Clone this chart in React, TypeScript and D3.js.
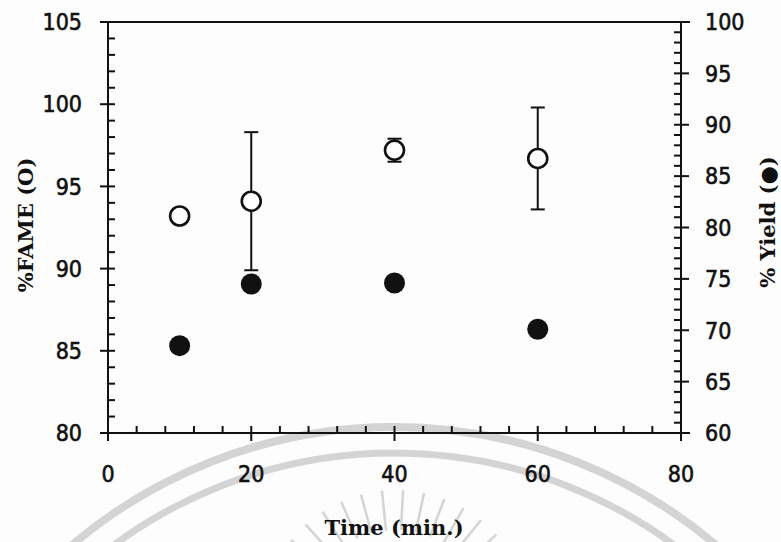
import React, { useEffect, useRef } from 'react';
import * as d3 from 'd3';

// reaction time (min)
const timeMin = [10, 20, 40, 60];
// %FAME, open circles, left axis
const fame = [93.2, 94.1, 97.2, 96.7];
const fameErr = [0, 4.2, 0.7, 3.1];
// %Yield, filled circles, right axis
const yieldPct = [68.5, 74.5, 74.6, 70.1];

const xTicks = [0, 20, 40, 60, 80];
const leftTicks = [80, 85, 90, 95, 100, 105];
const rightTicks = [60, 65, 70, 75, 80, 85, 90, 95, 100];

const App = () => {
  const ref = useRef<SVGSVGElement | null>(null);

  useEffect(() => {
    const width = 781;
    const height = 542;
    const left = 108, right = 681, top = 22, bottom = 433;

    const x = d3.scaleLinear().domain([0, 80]).range([left, right]);
    const yL = d3.scaleLinear().domain([80, 105]).range([bottom, top]);
    const yR = d3.scaleLinear().domain([60, 100]).range([bottom, top]);

    const svg = d3.select(ref.current).attr('width', width).attr('height', height);
    svg.selectAll('*').remove();

    svg.append('rect').attr('width', width).attr('height', height).attr('fill', '#fdfdfd');

    // faint watermark from the scan
    const wm = svg.append('g').attr('fill', 'none').attr('stroke', '#d4d4d4');
    wm.append('circle').attr('cx', 394).attr('cy', 925).attr('r', 498).attr('stroke-width', 8);
    wm.append('circle').attr('cx', 394).attr('cy', 925).attr('r', 472).attr('stroke-width', 7);
    d3.range(-60, 61, 9).forEach((a) => {
      const t = (a * Math.PI) / 180;
      wm.append('line')
        .attr('x1', 396 + 95 * Math.sin(t)).attr('y1', 625 - 95 * Math.cos(t))
        .attr('x2', 396 + 135 * Math.sin(t)).attr('y2', 625 - 135 * Math.cos(t))
        .attr('stroke-width', 2.5);
    });

    const ink = '#111';
    const frame = svg.append('g').attr('stroke', ink).attr('stroke-width', 2).attr('fill', 'none');
    // frame lines
    frame.append('line').attr('x1', left - 8).attr('x2', right + 9).attr('y1', top).attr('y2', top);
    frame.append('line').attr('x1', left - 8).attr('x2', right + 9).attr('y1', bottom).attr('y2', bottom);
    frame.append('line').attr('x1', left).attr('x2', left).attr('y1', top).attr('y2', bottom + 8);
    frame.append('line').attr('x1', right).attr('x2', right).attr('y1', top).attr('y2', bottom + 8);

    // left ticks: major every 5 (crossing), minor every 1 (inward)
    d3.range(80, 106, 1).forEach((v) => {
      const major = v % 5 === 0;
      frame.append('line')
        .attr('x1', major ? left - 8 : left).attr('x2', left + 7)
        .attr('y1', yL(v)).attr('y2', yL(v));
    });
    // right ticks
    d3.range(60, 101, 1).forEach((v) => {
      const major = v % 5 === 0;
      frame.append('line')
        .attr('x1', right - 7).attr('x2', major ? right + 8 : right)
        .attr('y1', yR(v)).attr('y2', yR(v));
    });
    // bottom ticks: major every 20, minor every 4
    d3.range(0, 81, 4).forEach((v) => {
      const major = v % 20 === 0;
      frame.append('line')
        .attr('x1', x(v)).attr('x2', x(v))
        .attr('y1', bottom - 7).attr('y2', major ? bottom + 8 : bottom);
    });

    const tickFont = '"DejaVu Sans Condensed", "DejaVu Sans", sans-serif';
    const lab = svg.append('g')
      .style('font-family', tickFont).style('font-size', '23px')
      .attr('fill', ink).attr('stroke', ink).attr('stroke-width', 0.6);

    leftTicks.forEach((v) => {
      lab.append('text').attr('x', 82).attr('y', yL(v)).attr('dy', '0.36em')
        .attr('text-anchor', 'end').text(v);
    });
    rightTicks.forEach((v) => {
      lab.append('text').attr('x', 705).attr('y', yR(v)).attr('dy', '0.36em')
        .attr('text-anchor', 'start').text(v);
    });
    xTicks.forEach((v) => {
      lab.append('text').attr('x', x(v)).attr('y', 474).attr('dy', '0.36em')
        .attr('text-anchor', 'middle').text(v);
    });

    // axis titles
    const titleFont = '"DejaVu Serif", "Liberation Serif", serif';
    svg.append('text')
      .attr('transform', 'translate(33,225) rotate(-90)')
      .attr('text-anchor', 'middle')
      .style('font-family', titleFont).style('font-weight', 'bold').style('font-size', '21px')
      .attr('fill', ink)
      .text('%FAME (O)');
    svg.append('text')
      .attr('transform', 'translate(775,222) rotate(-90)')
      .attr('text-anchor', 'middle')
      .style('font-family', titleFont).style('font-weight', 'bold').style('font-size', '21px')
      .attr('fill', ink)
      .text('% Yield (●)');
    svg.append('text')
      .attr('x', 394).attr('y', 535)
      .attr('text-anchor', 'middle')
      .style('font-family', titleFont).style('font-weight', 'bold').style('font-size', '21px')
      .attr('fill', ink)
      .text('Time (min.)');

    // error bars for FAME
    const eb = svg.append('g').attr('stroke', ink).attr('stroke-width', 2);
    timeMin.forEach((t, i) => {
      if (!fameErr[i]) return;
      const lo = yL(fame[i] - fameErr[i]);
      const hi = yL(fame[i] + fameErr[i]);
      eb.append('line').attr('x1', x(t)).attr('x2', x(t)).attr('y1', lo).attr('y2', hi);
      eb.append('line').attr('x1', x(t) - 7).attr('x2', x(t) + 7).attr('y1', lo).attr('y2', lo);
      eb.append('line').attr('x1', x(t) - 7).attr('x2', x(t) + 7).attr('y1', hi).attr('y2', hi);
    });

    // FAME open circles
    svg.append('g').selectAll('circle').data(timeMin).join('circle')
      .attr('cx', (d) => x(d))
      .attr('cy', (d, i) => yL(fame[i]))
      .attr('r', 9.5)
      .attr('fill', '#fff')
      .attr('stroke', ink)
      .attr('stroke-width', 2.6);

    // Yield filled circles
    svg.append('g').selectAll('circle').data(timeMin).join('circle')
      .attr('cx', (d) => x(d))
      .attr('cy', (d, i) => yR(yieldPct[i]))
      .attr('r', 10.5)
      .attr('fill', ink);
  }, []);

  return (
    <div style={{ position: 'absolute', left: 0, top: 0 }}>
      <svg ref={ref} style={{ display: 'block' }} />
    </div>
  );
};

export default App;
